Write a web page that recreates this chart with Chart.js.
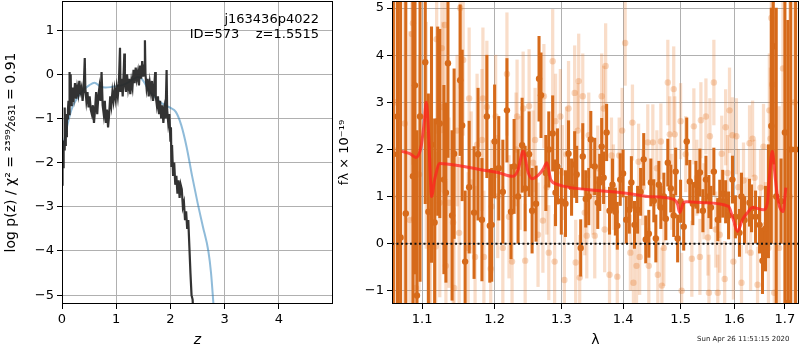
<!DOCTYPE html>
<html>
<head>
<meta charset="utf-8">
<script src="https://cdn.jsdelivr.net/npm/chart.js@4/dist/chart.umd.min.js"></script>
<style>
body { margin: 0; background: #fff; }
#wrap { position: relative; width: 800px; height: 350px; overflow: hidden; }
#pz { position: absolute; left: 0; top: 0; }
#sp { position: absolute; left: 335px; top: 0; }
#stamp { position: absolute; left: 697px; top: 335px; font: 7px "DejaVu Sans"; color: #222; white-space: nowrap; }
</style>
</head>
<body>
<div id="wrap">
<canvas id="pz" width="335" height="350" style="width:335px;height:350px"></canvas>
<canvas id="sp" width="465" height="350" style="width:465px;height:350px"></canvas>
<div id="stamp">Sun Apr 26 11:51:15 2020</div>
</div>
<script>
// left panel: p(z)
const zGrid = [0.00, 0.01, 0.02, 0.03, 0.04, 0.05, 0.06, 0.07, 0.08, 0.09, 0.10, 0.11, 0.12, 0.13, 0.14, 0.15, 0.16, 0.17, 0.18, 0.19,
  0.20, 0.22, 0.24, 0.26, 0.28, 0.30, 0.32, 0.34, 0.36, 0.38, 0.40, 0.42, 0.43, 0.45, 0.47, 0.49, 0.51, 0.53, 0.55, 0.57,
  0.59, 0.61, 0.63, 0.65, 0.67, 0.69, 0.71, 0.73, 0.75, 0.77, 0.79, 0.81, 0.83, 0.85, 0.87, 0.89, 0.91, 0.93, 0.95, 0.97,
  0.99, 1.01, 1.03, 1.05, 1.07, 1.08, 1.10, 1.12, 1.14, 1.15, 1.16, 1.18, 1.20, 1.22, 1.24, 1.26, 1.28, 1.30, 1.32, 1.34,
  1.36, 1.38, 1.40, 1.42, 1.44, 1.46, 1.48, 1.50, 1.52, 1.53, 1.54, 1.56, 1.58, 1.60, 1.62, 1.64, 1.66, 1.68, 1.70, 1.72,
  1.73, 1.75, 1.77, 1.79, 1.81, 1.83, 1.85, 1.87, 1.89, 1.91, 1.93, 1.94, 1.96, 1.98, 2.00, 2.01, 2.02, 2.03, 2.05, 2.07,
  2.09, 2.11, 2.13, 2.15, 2.17, 2.19, 2.21, 2.23, 2.25, 2.27, 2.29, 2.31, 2.33, 2.35, 2.37, 2.39, 2.41, 2.43];
const logPz = [-2.5, -1.9, -2.1, -1.5, -1.7, -0.75, -1.6, -1.3, -1.4, -0.9, -1.0, -0.8, -0.6, -0.9, 0.05, -0.6, 0.0, -0.7, -0.5, -0.6,
  -0.3, -0.5, -0.2, -0.55, -0.3, -0.45, -0.15, -0.4, -0.3, -0.6, -0.35, 0.37, -0.3, -0.6, -0.4, -0.75, -0.5, -0.8, -0.9, -0.7,
  -1.1, -0.8, -0.4, -0.9, -0.5, -0.3, -0.6, 0.05, -0.7, -0.9, -0.6, -1.1, -0.8, -1.2, -0.9, -0.5, -0.7, -0.4, -0.6, -0.35,
  -0.55, -0.3, -0.5, -0.2, 0.6, -0.4, -0.1, -0.5, 0.1, 0.47, -0.2, -0.4, 0.0, -0.3, -0.1, -0.45, -0.15, -0.3, 0.1, -0.2,
  0.15, -0.1, 0.05, -0.25, 0.2, -0.1, 0.3, -0.05, 0.2, 0.77, 0.0, -0.3, -0.1, -0.5, -0.2, -0.4, -0.15, -0.6, -0.3, 0.05,
  -0.5, -0.7, -0.5, -0.9, -0.6, -1.0, -0.7, -1.1, -0.8, -1.0, 0.1, -0.8, -1.1, -0.9, -1.5, -1.2, -2.1, -1.6, -2.3, -2.0,
  -2.5, -2.3, -2.7, -2.4, -2.8, -2.5, -2.6, -3.0, -2.9, -3.3, -3.1, -3.5, -3.3, -3.9, -4.5, -5.0, -5.1, -5.6];
const zSmooth = [0, 0.05, 0.1, 0.15, 0.2, 0.3, 0.4, 0.5, 0.6, 0.7, 0.8, 0.9, 1.0, 1.1, 1.2, 1.3, 1.4, 1.45, 1.5, 1.6,
  1.7, 1.8, 1.9, 2.0, 2.1, 2.2, 2.3, 2.4, 2.5, 2.6, 2.7, 2.75, 2.8];
const logPzSmooth = [-1.8, -1.45, -1.15, -0.9, -0.72, -0.5, -0.35, -0.25, -0.19, -0.27, -0.3, -0.29, -0.27, -0.25, -0.2, -0.12, -0.06, -0.08, -0.15, -0.35,
  -0.5, -0.62, -0.7, -0.76, -0.85, -1.15, -1.65, -2.3, -2.9, -3.45, -4.0, -4.5, -5.3];
const zTicks = [0, 1, 2, 3, 4];
const pzTicks = [-5, -4, -3, -2, -1, 0, 1];

// right panel: spectrum
const darkLam = [1.0627, 1.068, 1.072, 1.0787, 1.088, 1.0907, 1.0933, 1.0973, 1.1042, 1.1083, 1.1125, 1.1167, 1.1208, 1.1236, 1.1292, 1.1319,
  1.1347, 1.1403, 1.1431, 1.1514, 1.1542, 1.1583, 1.1639, 1.1708, 1.1764, 1.1819, 1.1889, 1.1931, 1.1958, 1.2, 1.206, 1.2119,
  1.2179, 1.2239, 1.2284, 1.2343, 1.2403, 1.2448, 1.2507, 1.2552, 1.2612, 1.2657, 1.2687, 1.2761, 1.2806, 1.2866, 1.291, 1.294,
  1.3, 1.3065, 1.3113, 1.3161, 1.321, 1.3242, 1.3306, 1.3339, 1.3387, 1.3435, 1.3468, 1.3532, 1.3581, 1.3613, 1.3645, 1.3677,
  1.3726, 1.3774, 1.3823, 1.3871, 1.3903, 1.3952, 1.4, 1.4053, 1.4105, 1.414, 1.4193, 1.4246, 1.4298, 1.4351, 1.4386, 1.4439,
  1.4474, 1.4526, 1.4561, 1.4614, 1.4649, 1.4702, 1.4737, 1.4772, 1.4825, 1.4877, 1.4912, 1.4947, 1.5, 1.5056, 1.5111, 1.5167,
  1.5222, 1.5278, 1.5315, 1.5352, 1.5407, 1.5463, 1.5519, 1.5556, 1.5611, 1.5685, 1.5722, 1.5778, 1.5833, 1.5889, 1.5963, 1.602,
  1.6098, 1.6137, 1.6196, 1.6294, 1.6333, 1.6412, 1.649, 1.6549, 1.6608, 1.6667, 1.6725, 1.6765, 1.6824, 1.6922, 1.7, 1.706,
  1.712, 1.722];
const darkFlux = [1.9, 2.7, 0.13, 0.64, 1.43, 3.36, -1.1, 2.7, 3.85, 0.68, 2.1, 0.45, 2.6, 2.55, 1.36, 1.08,
  3.83, 0.6, 1.91, 3.47, 2.51, -0.38, 1.2, 0.66, 1.9, 0.51, 2.7, 0.38, 0.4, 2.17, 1.6, 1.1,
  2.83, 0.68, 1.64, 1.0, 2.09, 1.17, 1.9, 0.7, 0.85, 3.5, 3.15, 1.5, 2.0, 2.34, 1.08, 1.64,
  0.9, 0.85, 1.91, 1.2, 1.68, 1.47, -0.09, 1.85, 0.95, 1.0, 2.21, 1.64, 0.87, 1.3, 2.06, 1.4,
  2.36, 0.7, 1.25, 0.68, 0.38, 1.36, 1.49, 0.51, 0.72, 1.3, 0.4, 0.72, 1.1, 1.79, 0.09, 0.21,
  1.3, 0.91, 0.11, 1.25, 0.77, 1.0, 0.53, 1.72, 1.17, 0.6, 1.53, 0.11, 0.9, 0.36, 2.17, 1.32,
  0.85, 1.25, 1.1, 1.51, 0.7, 1.36, 1.0, 0.77, 1.53, 0.51, 0.9, 1.06, 0.89, 0.6, 1.36, 0.57,
  0.23, 1.0, 0.5, 0.87, 0.75, 0.57, 0.4, -0.36, 0.32, 0.9, 2.5, 4.19, 1.0, 0.9, 2.36, -1.26,
  2.0, 2.0];
const darkErr = [6, 5, 5, 5, 4.5, 4, 3.5, 3.5, 3, 2.5, 2.5, 2.2, 2, 2, 2, 1.9,
  2, 1.8, 1.8, 1.6, 1.6, 1.5, 1.4, 1.4, 1.4, 1.3, 1.3, 1.2, 1.2, 1.2, 1.1, 1.1,
  1.1, 1.0, 1.0, 1.0, 1.0, 0.9, 0.9, 0.9, 0.8, 0.9, 0.9, 0.8, 0.8, 0.8, 0.7, 0.8,
  0.7, 0.7, 0.7, 0.6, 0.7, 0.6, 0.6, 0.7, 0.6, 0.6, 0.6, 0.6, 0.55, 0.6, 0.6, 0.55,
  0.6, 0.5, 0.55, 0.5, 0.5, 0.55, 0.5, 0.5, 0.5, 0.55, 0.5, 0.5, 0.5, 0.55, 0.5, 0.5,
  0.5, 0.45, 0.5, 0.5, 0.45, 0.5, 0.45, 0.5, 0.5, 0.45, 0.5, 0.5, 0.45, 0.5, 0.5, 0.45,
  0.45, 0.5, 0.45, 0.5, 0.45, 0.5, 0.45, 0.45, 0.5, 0.45, 0.45, 0.5, 0.45, 0.5, 0.5, 0.45,
  0.5, 0.5, 0.5, 0.5, 0.5, 0.55, 0.6, 0.7, 0.9, 1.2, 2.5, 2.5, 4, 0.9, 5, 6,
  7, 7];

const lightLam = [1.062, 1.0653, 1.0693, 1.0773, 1.084, 1.0867, 1.088, 1.0893, 1.092, 1.096, 1.1097, 1.1111, 1.1181, 1.1194, 1.1236, 1.1264,
  1.1306, 1.1319, 1.1361, 1.1417, 1.1431, 1.15, 1.1514, 1.1556, 1.1625, 1.1639, 1.1722, 1.175, 1.1819, 1.1833, 1.1847, 1.1889,
  1.1944, 1.1958, 1.2015, 1.2119, 1.2179, 1.2209, 1.2254, 1.2328, 1.2418, 1.2448, 1.2507, 1.2567, 1.2642, 1.2716, 1.2731, 1.2806,
  1.2866, 1.2896, 1.2985, 1.3016, 1.3048, 1.3113, 1.321, 1.3226, 1.3274, 1.329, 1.3339, 1.3371, 1.3403, 1.35, 1.3532, 1.3645,
  1.3677, 1.3694, 1.371, 1.3774, 1.3806, 1.3903, 1.3935, 1.4035, 1.4123, 1.4158, 1.4175, 1.4228, 1.4263, 1.4281, 1.4421, 1.4439,
  1.4509, 1.4596, 1.4649, 1.4667, 1.4702, 1.4772, 1.4807, 1.4877, 1.4895, 1.5, 1.5019, 1.5204, 1.5241, 1.5352, 1.537, 1.5463,
  1.55, 1.5519, 1.5537, 1.5611, 1.5648, 1.5685, 1.5722, 1.5759, 1.5815, 1.5833, 1.5907, 1.5963, 1.5981, 1.6039, 1.6137, 1.6176,
  1.6294, 1.6314, 1.6353, 1.6451, 1.651, 1.6569, 1.6667, 1.6686, 1.6706, 1.6725, 1.6745, 1.6784, 1.6882, 1.6961, 1.71, 1.72,
  1.1667, 1.2045, 1.2373, 1.2597, 1.2776, 1.3081, 1.3435, 1.3581, 1.3839, 1.3984, 1.4333, 1.4579, 1.4842, 1.5093, 1.5296, 1.5426,
  1.587, 1.6078, 1.6235, 1.6392, 1.6608, 1.1472, 1.1278, 1.1056, 1.3258, 1.291, 1.2313];
const lightFlux = [2.0, 3.0, 1.0, 2.55, 0.5, 4.45, 4.68, 0.53, -0.94, 1.47, 0.93, -0.02, -0.06, 4.34, 0.87, 4.15,
  4.64, -0.47, 0.87, 0.45, -0.94, 0.23, 5.0, 3.9, -0.09, 3.08, -0.28, 2.1, 2.2, 3.08, -0.28, 2.9,
  -0.53, 0.79, 2.7, -0.09, 3.6, 0.57, -0.38, 2.7, 2.87, -0.36, 2.92, 1.72, 0.19, 0.49, 3.13, -0.19,
  3.87, -0.38, 2.7, 1.51, -0.77, 2.87, 3.2, -0.4, 3.45, -0.72, 3.13, 0.66, 0.17, 1.1, 0.17, 3.13,
  2.87, 0.3, 3.77, -0.66, 1.87, -0.7, 1.87, 4.26, -0.19, 2.57, -0.83, -0.47, 1.74, -0.28, 2.15, -0.47,
  2.15, -0.66, 2.17, -0.89, -0.09, 3.42, 2.32, 3.28, 2.32, 2.6, -1.0, -0.32, 2.49, -0.28, 2.62, 2.7,
  0.13, -1.04, 2.28, 3.42, 0.3, -1.04, 0.19, 1.91, -0.75, 2.47, 2.83, 2.3, -0.38, 2.28, -0.83, 1.34,
  2.13, -0.19, 2.23, -0.87, 1.19, 2.06, -0.09, 2.83, 2.23, 4.79, 3.38, -1.04, -0.09, 3.72, 1.0, 3.0,
  1.3, 1.0, 1.5, 2.2, 1.2, 1.9, 2.3, 1.6, 1.2, 2.4, 1.2, 1.6, 1.1, 1.9, 1.4, 0.9,
  1.5, 1.2, 0.6, 1.4, 0.4, 2.4, 2.9, 2.3, 2.4, 2.6, 2.0];
const lightErr = [5, 5, 5, 4, 4, 3, 3, 3, 3, 2.5, 2.2, 2.2, 2, 2, 2, 1.8,
  1.8, 1.8, 1.8, 1.7, 1.7, 1.6, 1.7, 1.6, 1.6, 1.5, 1.5, 1.5, 1.5, 1.5, 1.4, 1.4,
  1.4, 1.4, 1.3, 1.3, 1.3, 1.3, 1.3, 1.2, 1.2, 1.2, 1.2, 1.1, 1.1, 1.1, 1.1, 1.0,
  1.1, 1.0, 1.0, 1.0, 1.0, 1.0, 1.0, 0.9, 1.0, 0.9, 0.9, 0.9, 0.9, 0.9, 0.9, 0.9,
  0.9, 0.9, 0.9, 0.9, 0.8, 0.8, 0.8, 0.9, 0.8, 0.8, 0.8, 0.8, 0.8, 0.8, 0.8, 0.8,
  0.8, 0.8, 0.8, 0.8, 0.8, 0.9, 0.8, 0.9, 0.8, 0.8, 0.8, 0.8, 0.8, 0.8, 0.8, 0.8,
  0.8, 0.8, 0.8, 0.9, 0.8, 0.8, 0.8, 0.8, 0.8, 0.8, 0.9, 0.8, 0.8, 0.8, 0.8, 0.8,
  0.8, 0.8, 0.8, 0.8, 0.8, 0.9, 1.2, 1.2, 1.5, 1.5, 1.8, 2, 3, 3, 5, 5,
  1.5, 1.3, 1.2, 1.1, 1.0, 1.0, 0.9, 0.9, 0.9, 0.9, 0.8, 0.8, 0.8, 0.8, 0.8, 0.8,
  0.8, 0.8, 0.8, 0.8, 0.9, 1.6, 1.8, 2.4, 1.0, 1.0, 1.2];

const modelLam = [1.0733, 1.084, 1.092, 1.0987, 1.1028, 1.1056, 1.1083, 1.1111, 1.1125, 1.1167, 1.1236, 1.1486, 1.1806, 1.2045, 1.2269, 1.2343,
  1.2418, 1.2493, 1.2552, 1.2642, 1.2716, 1.2776, 1.2836, 1.294, 1.3145, 1.3581, 1.4123, 1.4421, 1.4877, 1.4947, 1.4982, 1.5056,
  1.5111, 1.5426, 1.5889, 1.5963, 1.6059, 1.6157, 1.6255, 1.6353, 1.6569, 1.6647, 1.6686, 1.6745, 1.6804, 1.6863, 1.6961, 1.702];
const modelFlux = [1.96, 1.91, 1.83, 2.06, 2.57, 3.0, 2.45, 1.36, 1.0, 1.36, 1.7, 1.66, 1.57, 1.51, 1.43, 1.57,
  1.96, 1.51, 1.38, 1.45, 1.57, 1.72, 1.36, 1.26, 1.19, 1.13, 1.06, 1.0, 0.94, 0.83, 0.66, 0.87,
  0.89, 0.87, 0.79, 0.57, 0.26, 0.51, 0.66, 0.77, 0.72, 0.87, 1.4, 1.96, 1.4, 0.9, 0.68, 1.19];

const lamTicks = [1.1, 1.2, 1.3, 1.4, 1.5, 1.6, 1.7];
const fTicks = [-1, 0, 1, 2, 3, 4, 5];

Chart.defaults.font.family = 'DejaVu Sans';
Chart.defaults.font.size = 13;
Chart.defaults.color = '#000';
Chart.defaults.animation = false;
Chart.defaults.events = [];
Chart.defaults.plugins.legend.display = false;
Chart.defaults.plugins.tooltip.enabled = false;

const minus = v => v < 0 ? '\u2212' + Math.abs(v) : String(v);
const setTicks = list => axis => { axis.ticks = list.map(v => ({ value: v })); };
// keep the plot box where matplotlib had it: no extra room for edge labels
const fixSize = (w, h) => s => {
    if (w) s.width = w;
    if (h) s.height = h;
    s.paddingTop = 0; s.paddingBottom = 0; s.paddingLeft = 0; s.paddingRight = 0;
};

const frame = {
    id: 'frame',
    afterDraw(chart) {
        const { ctx, chartArea: a } = chart;
        ctx.save();
        ctx.strokeStyle = '#000';
        ctx.lineWidth = 1;
        ctx.strokeRect(a.left + 0.5, a.top + 0.5, a.right - a.left - 1, a.bottom - a.top - 1);
        ctx.restore();
    }
};

const label = {
    id: 'label',
    afterDraw(chart) {
        const ctx = chart.ctx;
        ctx.save();
        ctx.font = '13px "DejaVu Sans"';
        ctx.fillStyle = '#000';
        ctx.textAlign = 'right';
        ctx.textBaseline = 'middle';
        ctx.fillText('j163436p4022', 319, 20);
        ctx.fillText('ID=573    z=1.5515', 319, 35);
        ctx.restore();
    }
};

function gridOpts() {
    return { color: '#b0b0b0', tickColor: '#000', tickLength: 5, drawTicks: true };
}

new Chart(document.getElementById('pz'), {
    type: 'line',
    data: {
        datasets: [{
            data: zGrid.map((z, i) => ({ x: z, y: logPz[i] })),
            borderColor: 'rgba(40,40,40,0.95)',
            borderWidth: 2.2,
            pointRadius: 0,
            tension: 0
        }, {
            data: zSmooth.map((z, i) => ({ x: z, y: logPzSmooth[i] })),
            borderColor: 'rgba(31,119,180,0.5)',
            borderWidth: 2,
            pointRadius: 0,
            cubicInterpolationMode: 'monotone'
        }]
    },
    options: {
        responsive: false,
        layout: { autoPadding: false, padding: { left: 0, right: 2, top: 1, bottom: 0 } },
        scales: {
            x: {
                type: 'linear', min: 0, max: 5.0,
                afterBuildTicks: setTicks(zTicks),
                afterFit: fixSize(0, 46),
                grid: gridOpts(),
                border: { display: false },
                ticks: { padding: 3, callback: v => minus(v) },
                title: { display: true, text: 'z', font: { style: 'italic', size: 14 }, padding: { top: 0, bottom: 1 } }
            },
            y: {
                min: -5.2, max: 1.66,
                afterBuildTicks: setTicks(pzTicks),
                afterFit: fixSize(62, 0),
                grid: gridOpts(),
                border: { display: false },
                ticks: { padding: 3, callback: v => minus(v) },
                title: { display: true, text: 'log p(z) / \u03c7\u00b2 = \u00b2\u00b3\u2079\u2079\u2044\u2082\u2086\u2083\u2081 = 0.91', font: { size: 14 }, padding: { top: 3, bottom: 0 } }
            }
        }
    },
    plugins: [frame, label]
});

new Chart(document.getElementById('sp'), {
    type: 'bar',
    data: {
        datasets: [{
            type: 'line',
            data: [{ x: 1.061, y: 0 }, { x: 1.729, y: 0 }],
            borderColor: '#111',
            borderWidth: 2,
            borderDash: [2, 2.5],
            pointRadius: 0
        }, {
            type: 'line',
            data: modelLam.map((l, i) => ({ x: l, y: modelFlux[i] })),
            borderColor: 'rgba(255,30,30,0.72)',
            borderWidth: 3,
            pointRadius: 0,
            cubicInterpolationMode: 'monotone'
        }, {
            type: 'scatter',
            data: darkLam.map((l, i) => ({ x: l, y: darkFlux[i] })),
            backgroundColor: '#d66a1a',
            borderWidth: 0,
            pointRadius: 3.2
        }, {
            data: darkLam.map((l, i) => ({ x: l, y: [darkFlux[i] - darkErr[i], darkFlux[i] + darkErr[i]] })),
            backgroundColor: '#d66a1a',
            barThickness: 2.4,
            grouped: false
        }, {
            type: 'scatter',
            data: lightLam.map((l, i) => ({ x: l, y: lightFlux[i] })),
            backgroundColor: 'rgba(230,120,40,0.3)',
            borderWidth: 0,
            pointRadius: 3.2
        }, {
            data: lightLam.map((l, i) => ({ x: l, y: [lightFlux[i] - lightErr[i], lightFlux[i] + lightErr[i]] })),
            backgroundColor: 'rgba(230,120,40,0.25)',
            barThickness: 2.6,
            grouped: false
        }]
    },
    options: {
        responsive: false,
        layout: { autoPadding: false, padding: { left: 0, right: 1, top: 1, bottom: 0 } },
        scales: {
            x: {
                type: 'logarithmic', min: 1.061, max: 1.729,
                offset: false,
                afterBuildTicks: setTicks(lamTicks),
                afterFit: fixSize(0, 46),
                grid: Object.assign(gridOpts(), { offset: false }),
                border: { display: false },
                ticks: { padding: 3, autoSkip: false, maxRotation: 0, callback: v => Number(v).toFixed(1) },
                title: { display: true, text: '\u03bb', font: { size: 14 }, padding: { top: 0, bottom: 1 } }
            },
            y: {
                type: 'linear', min: -1.28, max: 5.15,
                afterBuildTicks: setTicks(fTicks),
                afterFit: fixSize(57, 0),
                grid: gridOpts(),
                border: { display: false },
                ticks: { padding: 3, callback: v => minus(v) },
                title: { display: true, text: 'f\u03bb \u00d7 10\u207b\u00b9\u2079', font: { size: 13 }, padding: { top: 2, bottom: 0 } }
            }
        }
    },
    plugins: [frame]
});
</script>
</body>
</html>
